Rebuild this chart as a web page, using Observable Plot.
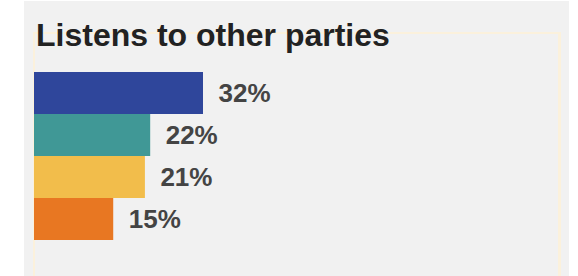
<!DOCTYPE html>
<html>
<head>
<meta charset="utf-8">
<script src="https://cdn.jsdelivr.net/npm/d3@7"></script>
<script src="https://cdn.jsdelivr.net/npm/@observablehq/plot@0.6"></script>
<style>
  html, body { margin: 0; padding: 0; background: #ffffff; width: 578px; height: 276px; overflow: hidden; }
  #panel { position: absolute; left: 24px; top: 1px; width: 545px; height: 280px; background: #f1f1f1; }
  #box { position: absolute; left: 33px; top: 32px; width: 523px; height: 260px;
         border-top: 2px solid #fbf1dc; border-left: 2px solid #fbf1dc; border-right: 3px solid #fbf1dc; }
  #title { position: absolute; left: 36px; top: 18.6px; margin: 0; font: bold 32px Arial, "Liberation Sans", sans-serif;
           line-height: 1; color: #222222; white-space: nowrap; }
  #chart { position: absolute; left: 0; top: 0; }
</style>
</head>
<body>
<div id="panel"></div>
<div id="box"></div>
<div id="chart"></div>
<h2 id="title">Listens to other parties</h2>
<script>
const categories = ["Group 1", "Group 2", "Group 3", "Group 4"];
const values = [32, 22, 21, 15];
const colors = ["#2f469b", "#409896", "#f2bd4b", "#e87722"];

const data = categories.map((c, i) => ({category: c, value: values[i], color: colors[i]}));

const chart = Plot.plot({
  width: 578,
  height: 276,
  margin: 0,
  style: {background: "transparent", fontFamily: "Arial, 'Liberation Sans', sans-serif"},
  x: {domain: [0, 32], range: [34, 203], axis: null},
  y: {domain: categories, range: [71, 241], padding: 0, axis: null},
  marks: [
    Plot.barX(data, {x1: 0, x2: "value", y: "category", fill: "color"}),
    Plot.text(data, {
      x: "value", y: "category", text: d => d.value + "%",
      dx: 15, textAnchor: "start", fontSize: 26, fontWeight: "bold", fill: "#444444"
    })
  ]
});
document.getElementById("chart").appendChild(chart);
</script>
</body>
</html>
